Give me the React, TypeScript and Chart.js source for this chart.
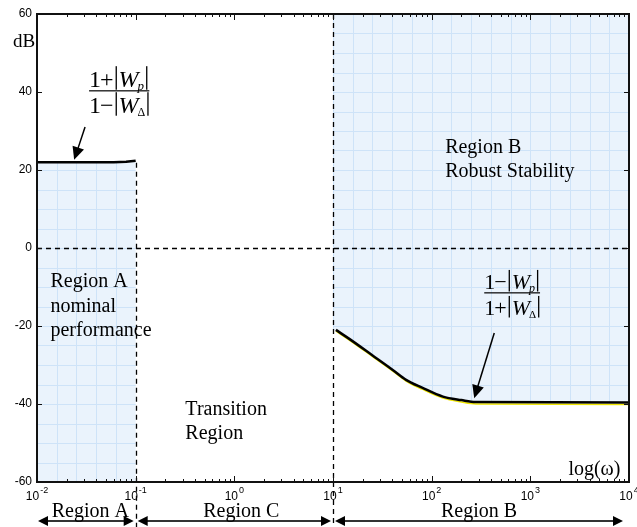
import React, { useEffect, useRef } from 'react';
import { Chart, registerables } from 'chart.js';

Chart.register(...registerables);

// ---- data ----
const regionAX = [0.01, 0.03, 0.06, 0.08, 0.1];
const regionAY = [22, 22, 22, 22.1, 22.4];
const regionBX = [10.7, 15, 25, 40, 55, 80, 130, 200, 280, 10000];
const regionBY = [-21, -23.5, -27.5, -31.2, -33.8, -35.8, -38.1, -39.0, -39.5, -39.6];
const yellowX = [10.7, 15, 25, 40, 55, 80, 130, 200, 280, 10000];
const yellowY = [-21.3, -23.8, -27.8, -31.5, -34.1, -36.2, -38.5, -39.5, -40.0, -40.1];
const yTicks = [60, 40, 20, 0, -20, -40, -60];
const xDecades = [-2, -1, 0, 1, 2, 3, 4];
const boundaries = [0.1, 10];
const regionNames = ['Region A', 'Region C', 'Region B'];
const regionLabelOffsets = [4, 7, -2];

const SERIF = '"Liberation Serif", "Times New Roman", serif';
const SANS = '"Liberation Sans", Arial, sans-serif';
const FILL = 'rgb(234,243,252)';
const GRID = 'rgb(206,227,248)';

function drawArrowHead(ctx: CanvasRenderingContext2D, fx: number, fy: number, tx: number, ty: number, len: number, half: number) {
  const ang = Math.atan2(ty - fy, tx - fx);
  ctx.beginPath();
  ctx.moveTo(tx, ty);
  ctx.lineTo(tx - len * Math.cos(ang) + half * Math.sin(ang), ty - len * Math.sin(ang) - half * Math.cos(ang));
  ctx.lineTo(tx - len * Math.cos(ang) - half * Math.sin(ang), ty - len * Math.sin(ang) + half * Math.cos(ang));
  ctx.closePath();
  ctx.fill();
}

function drawFrac(ctx: CanvasRenderingContext2D, x0: number, barY: number, numSign: string, denSign: string, size: number) {
  const row = (baseline: number, sign: string, sub: string, subItalic: boolean) => {
    let cx = x0;
    ctx.textAlign = 'left';
    ctx.textBaseline = 'alphabetic';
    ctx.font = `${size}px ${SERIF}`;
    ctx.fillText('1', cx, baseline);
    cx += ctx.measureText('1').width - 1;
    ctx.fillText(sign, cx, baseline);
    cx += ctx.measureText(sign).width + 2;
    ctx.fillRect(cx, baseline - size * 0.86, 1.3, size * 0.98);
    cx += 3;
    ctx.font = `italic ${size}px ${SERIF}`;
    ctx.fillText('W', cx, baseline);
    cx += ctx.measureText('W').width - 1;
    ctx.font = subItalic ? `italic ${Math.round(size * 0.55)}px ${SERIF}` : `${Math.round(size * 0.5)}px ${SERIF}`;
    ctx.fillText(sub, cx, baseline + 3);
    cx += ctx.measureText(sub).width + 2;
    ctx.fillRect(cx, baseline - size * 0.86, 1.3, size * 0.98);
    return cx + 2;
  };
  const e1 = row(barY - 4, numSign, 'p', true);
  const e2 = row(barY + 22, denSign, 'Δ', false);
  ctx.fillRect(x0, barY - 0.6, Math.max(e1, e2) - x0, 1.2);
}

const decoPlugin = {
  id: 'deco',
  beforeDatasetsDraw(chart: any) {
    const { ctx, chartArea: a, scales } = chart;
    const X = (v: number) => scales.x.getPixelForValue(v);
    const Y = (v: number) => scales.y.getPixelForValue(v);
    const fillGrid = (pathFn: () => void) => {
      ctx.save();
      ctx.beginPath();
      pathFn();
      ctx.closePath();
      ctx.fillStyle = FILL;
      ctx.fill();
      ctx.clip();
      ctx.strokeStyle = GRID;
      ctx.lineWidth = 1;
      ctx.beginPath();
      for (let k = -10; k <= 20; k++) {
        const px = Math.round(X(Math.pow(10, k / 5))) + 0.5;
        ctx.moveTo(px, a.top);
        ctx.lineTo(px, a.bottom);
      }
      for (let v = -60; v <= 60; v += 5) {
        const py = Math.round(Y(v)) + 0.5;
        ctx.moveTo(a.left, py);
        ctx.lineTo(a.right, py);
      }
      ctx.stroke();
      ctx.restore();
    };
    fillGrid(() => {
      ctx.moveTo(X(regionAX[0]), Y(-60));
      regionAX.forEach((v, i) => ctx.lineTo(X(v), Y(regionAY[i])));
      ctx.lineTo(X(regionAX[regionAX.length - 1]), Y(-60));
    });
    // region B fill: above the (smoothed) dataset line, using the element points
    const metaB = chart.getDatasetMeta(1);
    fillGrid(() => {
      ctx.moveTo(X(boundaries[1]), Y(60));
      ctx.lineTo(X(regionBX[regionBX.length - 1]), Y(60));
      const pts = metaB.data;
      for (let i = pts.length - 1; i >= 0; i--) {
        const p = pts[i];
        if (i === pts.length - 1) {
          ctx.lineTo(p.x, p.y);
        } else {
          const n = pts[i + 1];
          if (n.cp1x !== undefined && p.cp2x !== undefined) {
            ctx.bezierCurveTo(n.cp1x, n.cp1y, p.cp2x, p.cp2y, p.x, p.y);
          } else {
            ctx.lineTo(p.x, p.y);
          }
        }
      }
      ctx.lineTo(X(boundaries[1]), Y(regionBY[0]));
    });

    // dashed lines
    ctx.save();
    ctx.strokeStyle = '#000';
    ctx.lineWidth = 1.3;
    ctx.setLineDash([5, 4]);
    ctx.beginPath();
    ctx.moveTo(a.left, Math.round(Y(0)) + 0.5);
    ctx.lineTo(a.right, Math.round(Y(0)) + 0.5);
    const b0 = Math.round(X(boundaries[0])) + 0.5;
    ctx.moveTo(b0, Y(regionAY[regionAY.length - 1]) + 2);
    ctx.lineTo(b0, chart.height);
    const b1 = Math.round(X(boundaries[1])) + 0.5;
    ctx.moveTo(b1, a.top);
    ctx.lineTo(b1, chart.height);
    ctx.stroke();
    ctx.restore();
  },
  afterDatasetsDraw(chart: any) {
    const { ctx, chartArea: a, scales } = chart;
    const X = (v: number) => scales.x.getPixelForValue(v);
    const Y = (v: number) => scales.y.getPixelForValue(v);
    ctx.save();
    // frame
    ctx.strokeStyle = '#111';
    ctx.lineWidth = 2;
    ctx.strokeRect(a.left, a.top, a.right - a.left, a.bottom - a.top);

    // ticks
    ctx.lineWidth = 1;
    ctx.strokeStyle = '#111';
    ctx.beginPath();
    for (let d = xDecades[0]; d <= xDecades[xDecades.length - 1]; d++) {
      for (let m = 1; m <= 9; m++) {
        const v = m * Math.pow(10, d);
        if (v > Math.pow(10, xDecades[xDecades.length - 1])) break;
        const px = Math.round(X(v)) + 0.5;
        const len = m === 1 ? 6 : 3;
        ctx.moveTo(px, a.bottom);
        ctx.lineTo(px, a.bottom - len);
        ctx.moveTo(px, a.top);
        ctx.lineTo(px, a.top + len);
      }
    }
    yTicks.forEach((t) => {
      const py = Math.round(Y(t)) + 0.5;
      ctx.moveTo(a.left, py);
      ctx.lineTo(a.left + 5, py);
      ctx.moveTo(a.right, py);
      ctx.lineTo(a.right - 5, py);
    });
    ctx.stroke();

    ctx.fillStyle = '#000';
    // y labels
    ctx.font = `12px ${SANS}`;
    ctx.textAlign = 'right';
    ctx.textBaseline = 'middle';
    yTicks.forEach((t) => ctx.fillText(String(t), a.left - 5, Y(t)));

    // x labels with superscript
    ctx.textBaseline = 'alphabetic';
    ctx.textAlign = 'left';
    xDecades.forEach((d) => {
      ctx.font = `12px ${SANS}`;
      const w1 = ctx.measureText('10').width;
      ctx.font = `9px ${SANS}`;
      const w2 = ctx.measureText(String(d)).width;
      const sx = X(Math.pow(10, d)) - (w1 + w2 + 1) / 2;
      ctx.font = `12px ${SANS}`;
      ctx.fillText('10', sx, a.bottom + 18);
      ctx.font = `9px ${SANS}`;
      ctx.fillText(String(d), sx + w1 + 1, a.bottom + 11);
    });

    // axis titles
    ctx.font = `19px ${SERIF}`;
    ctx.fillText('dB', a.left - 24, a.top + 33);
    ctx.font = `20px ${SERIF}`;
    ctx.fillText('log(ω)', X(2430), Y(-58.2));

    // region texts
    ctx.font = `20px ${SERIF}`;
    ctx.fillText('Region B', X(137), Y(24.4));
    ctx.fillText('Robust Stability', X(137), Y(18.2));
    ctx.fillText('Region A', X(0.0137), Y(-10));
    ctx.fillText('nominal', X(0.0137), Y(-16.5));
    ctx.fillText('performance', X(0.0137), Y(-22.6));
    ctx.fillText('Transition', X(0.319), Y(-42.8));
    ctx.fillText('Region', X(0.319), Y(-49));

    // formulas
    drawFrac(ctx, X(0.0337), Y(40.3), '+', '−', 24);
    drawFrac(ctx, X(341), Y(-11.5), '−', '+', 22);

    // pointer arrows
    ctx.strokeStyle = '#000';
    ctx.lineWidth = 1.5;
    const pointers = [
      [0.0307, 31.0, 0.0238, 22.6],
      [431, -21.8, 270, -38.5],
    ];
    pointers.forEach(([fx, fy, tx, ty]) => {
      const x1 = X(fx), y1 = Y(fy), x2 = X(tx), y2 = Y(ty);
      const ang = Math.atan2(y2 - y1, x2 - x1);
      ctx.beginPath();
      ctx.moveTo(x1, y1);
      ctx.lineTo(x2 - 10 * Math.cos(ang), y2 - 10 * Math.sin(ang));
      ctx.stroke();
      drawArrowHead(ctx, x1, y1, x2, y2, 13, 6);
    });

    // bottom region arrows
    const edges = [Math.pow(10, xDecades[0]), boundaries[0], boundaries[1], Math.pow(10, xDecades[xDecades.length - 1])];
    const ay = a.bottom + 39;
    ctx.strokeStyle = '#333';
    ctx.fillStyle = '#000';
    ctx.lineWidth = 2;
    for (let i = 0; i < 3; i++) {
      const l = X(edges[i]) + (i === 0 ? 1 : 2);
      const r = X(edges[i + 1]) - (i === 2 ? 6 : 2);
      ctx.beginPath();
      ctx.moveTo(l + 8, ay);
      ctx.lineTo(r - 8, ay);
      ctx.stroke();
      drawArrowHead(ctx, r, ay, l, ay, 10, 5);
      drawArrowHead(ctx, l, ay, r, ay, 10, 5);
    }
    ctx.font = `20px ${SERIF}`;
    ctx.textAlign = 'center';
    for (let i = 0; i < 3; i++) {
      const c = (X(edges[i]) + X(edges[i + 1])) / 2 + regionLabelOffsets[i];
      ctx.fillText(regionNames[i], c, a.bottom + 35);
    }
    ctx.restore();
  },
};

export default function App() {
  const ref = useRef<HTMLCanvasElement>(null);
  useEffect(() => {
    document.body.style.margin = '0';
    const canvas = ref.current!;
    const chart = new Chart(canvas, {
      type: 'line',
      data: {
        datasets: [
          {
            data: regionAX.map((x, i) => ({ x, y: regionAY[i] })),
            borderColor: '#000',
            borderWidth: 2.5,
            pointRadius: 0,
            fill: false,
          },
          {
            data: regionBX.map((x, i) => ({ x, y: regionBY[i] })),
            borderColor: '#000',
            borderWidth: 2.5,
            pointRadius: 0,
            fill: false,
            cubicInterpolationMode: 'monotone',
          },
          {
            data: yellowX.map((x, i) => ({ x, y: yellowY[i] })),
            borderColor: 'rgb(240,230,0)',
            borderWidth: 1.5,
            pointRadius: 0,
            fill: false,
            cubicInterpolationMode: 'monotone',
          },
        ],
      },
      options: {
        responsive: false,
        maintainAspectRatio: false,
        animation: false,
        layout: { padding: { left: 37, right: 8, top: 14, bottom: 45 } },
        scales: {
          x: { type: 'logarithmic', min: 0.01, max: 10000, display: false },
          y: { type: 'linear', min: -60, max: 60, display: false },
        },
        plugins: { legend: { display: false }, tooltip: { enabled: false } },
      },
      plugins: [decoPlugin],
    });
    return () => chart.destroy();
  }, []);
  return (
    <div style={{ width: 637, height: 527, background: '#fff' }}>
      <canvas ref={ref} width={637} height={527} style={{ display: 'block' }} />
    </div>
  );
}
